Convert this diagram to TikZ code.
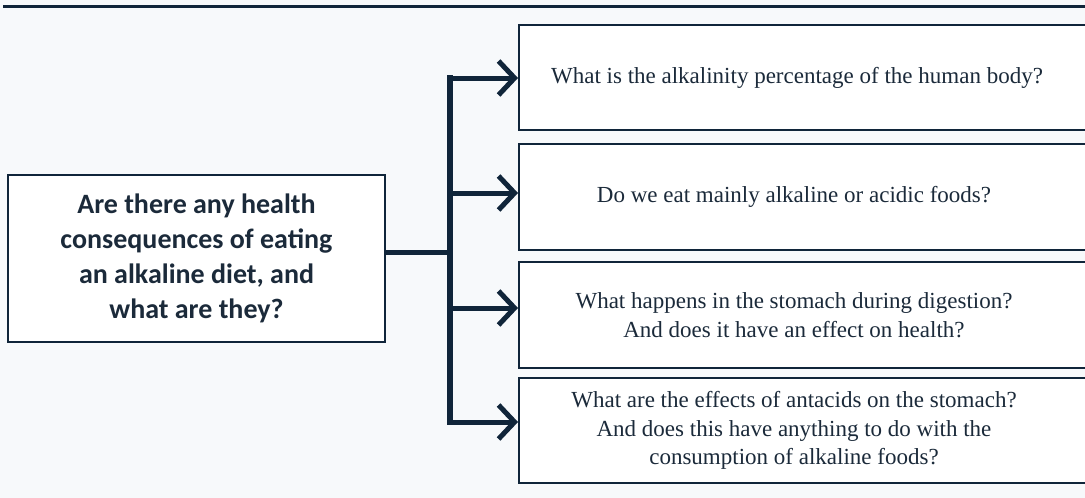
\documentclass[tikz,border=0pt]{standalone}
\usepackage{fontspec}
\setmainfont{Liberation Serif}
\newfontfamily\leftsans{Carlito}
\usetikzlibrary{arrows.meta}
\definecolor{navy}{HTML}{10253A}
\definecolor{bgc}{HTML}{F7F9FB}
\definecolor{txt}{HTML}{1B2A3A}
\begin{document}
\begin{tikzpicture}[x=1pt,y=-1pt,
  qbox/.style={draw=navy, line width=2pt, fill=white, minimum width=580pt, inner sep=0pt},
  qtext/.style={text=txt, align=center, inner sep=0pt, font=\fontsize{23}{28.5}\selectfont},
  mainbox/.style={draw=navy, line width=2.5pt, fill=white, minimum width=377pt, minimum height=167pt, inner sep=0pt,
    text=txt, align=center, font=\leftsans\bfseries\fontsize{28}{35}\selectfont},
  conn/.style={draw=navy, line width=5pt, -{Straight Barb[length=16pt, width=34pt]}},
  trunk/.style={draw=navy, line width=6pt, line cap=rect},
  feed/.style={draw=navy, line width=5pt}]
\fill[bgc] (0,0) rectangle (1085,498);
\useasboundingbox (0,0) rectangle (1085,498);
\draw[navy, line width=3pt] (3,6.5) -- (1085,6.5);

\node[mainbox] (q) at (196.5,258.5) {Are there any health\\consequences of eating\\an alkaline diet, and\\what are they?};

\node[qbox, minimum height=105pt] (b1) at (809,77.5) {};
\node[qbox, minimum height=106pt] (b2) at (809,197) {};
\node[qbox, minimum height=106pt] (b3) at (809,315) {};
\node[qbox, minimum height=105pt] (b4) at (809,430.5) {};

\node[qtext] (x1) at (797,77.5) {What is the alkalinity percentage of the human body?};
\node[qtext] (x2) at (794,197) {Do we eat mainly alkaline or acidic foods?};
\node[qtext] (x3) at (794,315) {What happens in the stomach during digestion?\\And does it have an effect on health?};
\node[qtext] (x4) at (794,430.5) {What are the effects of antacids on the stomach?\\And does this have anything to do with the\\consumption of alkaline foods?};

\coordinate (t1) at (450,78);
\coordinate (t2) at (450,193);
\coordinate (tm) at (450,252);
\coordinate (t3) at (450,308);
\coordinate (t4) at (450,422);

\draw[trunk] (t1) -- (t4);
\draw[feed] (q.east |- tm) -- (tm);
\draw[conn] (t1) -- (b1.west |- t1);
\draw[conn] (t2) -- (b2.west |- t2);
\draw[conn] (t3) -- (b3.west |- t3);
\draw[conn] (t4) -- (b4.west |- t4);
\end{tikzpicture}
\end{document}
